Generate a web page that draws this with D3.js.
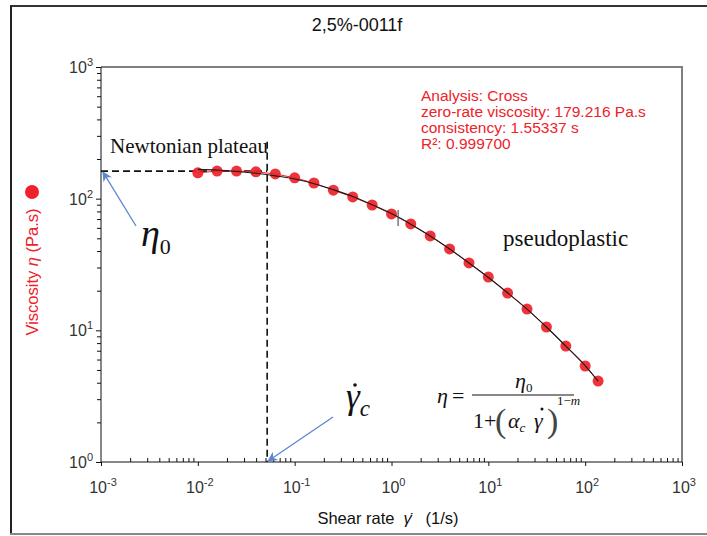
<!DOCTYPE html>
<html>
<head>
<meta charset="utf-8">
<script src="https://cdn.jsdelivr.net/npm/d3@7/dist/d3.min.js"></script>
<style>
  html, body { margin: 0; padding: 0; background: #fff; }
  svg { display: block; }
  .sans { font-family: Arial, "Liberation Sans", sans-serif; }
  .serif { font-family: "Times New Roman", "Liberation Serif", serif; }
</style>
</head>
<body>
<div id="chart"></div>
<script>
// Données
const title = '2,5%-0011f';
const shearRate = [0.01, 0.0158, 0.0251, 0.0398, 0.0631, 0.1, 0.158, 0.251, 0.398, 0.631,
                   1, 1.58, 2.51, 3.98, 6.31, 10, 15.8, 25.1, 39.8, 63.1, 100, 136];
const viscosity = [157, 162, 162, 160, 154, 144, 131.5, 116, 103, 89.5,
                   76.5, 64.3, 52.1, 41.5, 32.5, 25.4, 19.2, 14.5, 10.6, 7.6, 5.36, 4.12];
const fitViscosity = [167, 165, 161, 156, 149, 141, 130, 117, 104, 90,
                      77, 64, 52, 41.5, 32.5, 25.2, 19.3, 14.5, 10.6, 7.6, 5.4, 4.12];
const xTickExponents = [-3, -2, -1, 0, 1, 2, 3];
const yTickExponents = [0, 1, 2, 3];
const analysisLines = ['Analysis: Cross', 'zero-rate viscosity: 179.216 Pa.s',
                       'consistency: 1.55337 s', 'R²: 0.999700'];
const plateauViscosity = 162;   // η0 (ligne pointillée)
const criticalRate = 0.052;     // γ̇c
const markRate = 1.17;          // petit trait sur la courbe

const W = 707, H = 536;
const margin = { top: 67, right: 25, bottom: 74, left: 101 };
const red = '#ee2229';
const blue = '#5a87cf';

const svg = d3.select('#chart').append('svg')
    .attr('width', W).attr('height', H);

// Cadre extérieur
svg.append('line').attr('x1', 10).attr('x2', W).attr('y1', 6).attr('y2', 6)
    .attr('stroke', '#333').attr('stroke-width', 2);
svg.append('line').attr('x1', 11).attr('x2', 11).attr('y1', 6).attr('y2', 534)
    .attr('stroke', '#222').attr('stroke-width', 2);
svg.append('line').attr('x1', 10).attr('x2', W).attr('y1', 534).attr('y2', 534)
    .attr('stroke', '#888').attr('stroke-width', 2);

// Titre
svg.append('text').attr('class', 'sans')
    .attr('x', 357).attr('y', 31).attr('text-anchor', 'middle')
    .style('font-size', '18px').attr('fill', '#111').text(title);

// Échelles
const x = d3.scaleLog().domain([1e-3, 1e3]).range([margin.left, W - margin.right]);
const y = d3.scaleLog().domain([1, 1e3]).range([H - margin.bottom, margin.top]);

// Bordure haute / droite du graphe
svg.append('polyline')
    .attr('points', `${x(1e-3)},${y(1e3)} ${x(1e3)},${y(1e3)} ${x(1e3)},${y(1)}`)
    .attr('fill', 'none').attr('stroke', '#7f7f7f').attr('stroke-width', 2);

// Graduations mineures
function minorTicks(lo, hi) {
    const out = [];
    for (let e = lo; e < hi; e++) {
        for (let k = 2; k <= 9; k++) out.push(k * Math.pow(10, e));
    }
    return out;
}

// Axe Y
const yAxis = svg.append('g').attr('transform', `translate(${margin.left},0)`);
yAxis.call(d3.axisLeft(y).tickValues(yTickExponents.map(e => Math.pow(10, e)))
    .tickSize(5).tickFormat(''));
yAxis.call(g => g.append('g').call(d3.axisLeft(y).tickValues(minorTicks(0, 3))
    .tickSize(4).tickFormat('')));
yAxis.selectAll('path, line').attr('stroke', '#111');
yAxis.selectAll('.domain').remove();
svg.append('line').attr('x1', margin.left).attr('x2', margin.left)
    .attr('y1', y(1e3)).attr('y2', y(1)).attr('stroke', '#111');

yTickExponents.forEach(e => {
    const t = svg.append('text').attr('class', 'sans')
        .attr('x', 93).attr('y', y(Math.pow(10, e)) + 6)
        .attr('text-anchor', 'end').attr('fill', '#333')
        .style('font-size', '16px');
    t.append('tspan').text('10');
    t.append('tspan').attr('dy', -7).style('font-size', '11px').text(e);
});

// Axe X
const xAxis = svg.append('g').attr('transform', `translate(0,${y(1)})`);
xAxis.call(d3.axisBottom(x).tickValues(xTickExponents.map(e => Math.pow(10, e)))
    .tickSize(4).tickFormat(''));
xAxis.call(g => g.append('g').call(d3.axisBottom(x).tickValues(minorTicks(-3, 3))
    .tickSize(-4).tickFormat('')));
xAxis.selectAll('line').attr('stroke', '#111');
xAxis.selectAll('.domain').remove();
svg.append('line').attr('x1', x(1e-3)).attr('x2', x(1e3))
    .attr('y1', y(1)).attr('y2', y(1)).attr('stroke', '#111');

xTickExponents.forEach(e => {
    const t = svg.append('text').attr('class', 'sans')
        .attr('x', x(Math.pow(10, e)) + 2).attr('y', 493)
        .attr('text-anchor', 'middle').attr('fill', '#333')
        .style('font-size', '16px');
    t.append('tspan').text('10');
    t.append('tspan').attr('dy', -7).style('font-size', '11px').text(e < 0 ? '-' + (-e) : e);
});

// Libellés des axes
const xl = svg.append('text').attr('class', 'sans')
    .attr('x', 388).attr('y', 524).attr('text-anchor', 'middle')
    .attr('fill', '#111').style('font-size', '16.5px');
xl.append('tspan').text('Shear rate\u00a0\u00a0');
xl.append('tspan').style('font-style', 'italic').text('γ̇');
xl.append('tspan').text('\u00a0\u00a0\u00a0(1/s)');

const yl = svg.append('text').attr('class', 'sans')
    .attr('transform', 'translate(38,272) rotate(-90)')
    .attr('text-anchor', 'middle').attr('fill', red)
    .style('font-size', '16.5px');
yl.append('tspan').text('Viscosity ');
yl.append('tspan').style('font-style', 'italic').text('η');
yl.append('tspan').text(' (Pa.s)');
svg.append('circle').attr('cx', 32).attr('cy', 192).attr('r', 7).attr('fill', red);

// Lignes pointillées (η0 et γ̇c)
svg.append('line')
    .attr('x1', x(1e-3)).attr('x2', x(criticalRate))
    .attr('y1', y(plateauViscosity)).attr('y2', y(plateauViscosity))
    .attr('stroke', '#111').attr('stroke-width', 1.6).attr('stroke-dasharray', '7,4');
svg.append('line')
    .attr('x1', x(criticalRate)).attr('x2', x(criticalRate))
    .attr('y1', y(270)).attr('y2', y(1))
    .attr('stroke', '#111').attr('stroke-width', 1.6).attr('stroke-dasharray', '7,4');

// Données : ligne rouge + courbe ajustée + points
const pts = shearRate.map((g, i) => ({ g, v: viscosity[i], f: fitViscosity[i] }));

svg.append('path').datum(pts)
    .attr('d', d3.line().x(d => x(d.g)).y(d => y(d.v)))
    .attr('fill', 'none').attr('stroke', red).attr('stroke-width', 1);

svg.selectAll('.pt').data(pts).enter().append('circle')
    .attr('class', 'pt')
    .attr('cx', d => x(d.g)).attr('cy', d => y(d.v))
    .attr('r', 5.5).attr('fill', red).attr('fill-opacity', 0.92);

svg.append('path').datum(pts)
    .attr('d', d3.line().curve(d3.curveMonotoneX).x(d => x(d.g)).y(d => y(d.f)))
    .attr('fill', 'none').attr('stroke', '#1a1a1a').attr('stroke-width', 1.1);

// petit trait sur la courbe
svg.append('line')
    .attr('x1', x(markRate)).attr('x2', x(markRate))
    .attr('y1', y(82)).attr('y2', y(62))
    .attr('stroke', '#555').attr('stroke-width', 1.2);

// Flèches bleues
const defs = svg.append('defs');
defs.append('marker').attr('id', 'arrow')
    .attr('viewBox', '0 0 10 10').attr('refX', 9).attr('refY', 5)
    .attr('markerUnits', 'userSpaceOnUse')
    .attr('markerWidth', 12).attr('markerHeight', 10)
    .attr('orient', 'auto')
    .append('path').attr('d', 'M0,0 L10,5 L0,10 L3,5 z').attr('fill', blue);

svg.append('line')
    .attr('x1', 136).attr('y1', 226)
    .attr('x2', x(1e-3) + 2).attr('y2', y(plateauViscosity) + 1)
    .attr('stroke', blue).attr('stroke-width', 1.3).attr('marker-end', 'url(#arrow)');
svg.append('line')
    .attr('x1', 333).attr('y1', 417)
    .attr('x2', x(criticalRate) + 1).attr('y2', y(1) - 1)
    .attr('stroke', blue).attr('stroke-width', 1.3).attr('marker-end', 'url(#arrow)');

// Annotations (serif)
svg.append('text').attr('class', 'serif')
    .attr('x', 110).attr('y', 153).attr('fill', '#111')
    .style('font-size', '21px').text('Newtonian plateau');
svg.append('text').attr('class', 'serif')
    .attr('x', 503).attr('y', 246).attr('fill', '#111')
    .style('font-size', '23px').text('pseudoplastic');

const eta0 = svg.append('text').attr('class', 'serif')
    .attr('x', 141).attr('y', 246).attr('fill', '#111');
eta0.append('tspan').style('font-style', 'italic').style('font-size', '38px').text('η');
eta0.append('tspan').attr('dy', 8).style('font-size', '22px').text('0');

const gc = svg.append('text').attr('class', 'serif')
    .attr('x', 346).attr('y', 408).attr('fill', '#111');
gc.append('tspan').style('font-style', 'italic').style('font-size', '35px').text('γ');
gc.append('tspan').attr('dy', 8).style('font-style', 'italic').style('font-size', '23px').text('c');
svg.append('circle').attr('cx', 355).attr('cy', 385).attr('r', 1.8).attr('fill', '#111');

// Formule de Cross
const f = svg.append('g').attr('class', 'serif').attr('fill', '#111');
f.append('text').attr('x', 437).attr('y', 403).style('font-size', '22px')
    .style('font-style', 'italic').text('η');
f.append('text').attr('x', 452).attr('y', 403).style('font-size', '22px').text('=');
f.append('line').attr('x1', 472).attr('x2', 574).attr('y1', 395).attr('y2', 395)
    .attr('stroke', '#111').attr('stroke-width', 1);
const num = f.append('text').attr('x', 515).attr('y', 388).style('font-size', '22px');
num.append('tspan').style('font-style', 'italic').text('η');
num.append('tspan').attr('dy', 4).style('font-size', '13px').text('0');
f.append('text').attr('x', 473).attr('y', 428).style('font-size', '22px').text('1+');
f.append('text').attr('x', 495).attr('y', 432).style('font-size', '34px')
    .attr('fill', '#444').text('(');
const ac = f.append('text').attr('x', 508).attr('y', 428).style('font-size', '22px');
ac.append('tspan').style('font-style', 'italic').text('α');
ac.append('tspan').attr('dy', 4).style('font-style', 'italic').style('font-size', '13px').text('c');
f.append('text').attr('x', 534).attr('y', 428).style('font-size', '22px')
    .style('font-style', 'italic').text('γ');
f.append('circle').attr('cx', 542).attr('cy', 409).attr('r', 1.5).attr('fill', '#111');
f.append('text').attr('x', 547).attr('y', 432).style('font-size', '34px')
    .attr('fill', '#444').text(')');
const ex = f.append('text').attr('x', 557).attr('y', 405).style('font-size', '13px');
ex.append('tspan').text('1−');
ex.append('tspan').style('font-style', 'italic').text('m');

// Résultats de l'analyse (rouge)
analysisLines.forEach((s, i) => {
    svg.append('text').attr('class', 'sans')
        .attr('x', 421).attr('y', 101 + i * 16)
        .attr('fill', red).style('font-size', '15.5px').text(s);
});
</script>
</body>
</html>
